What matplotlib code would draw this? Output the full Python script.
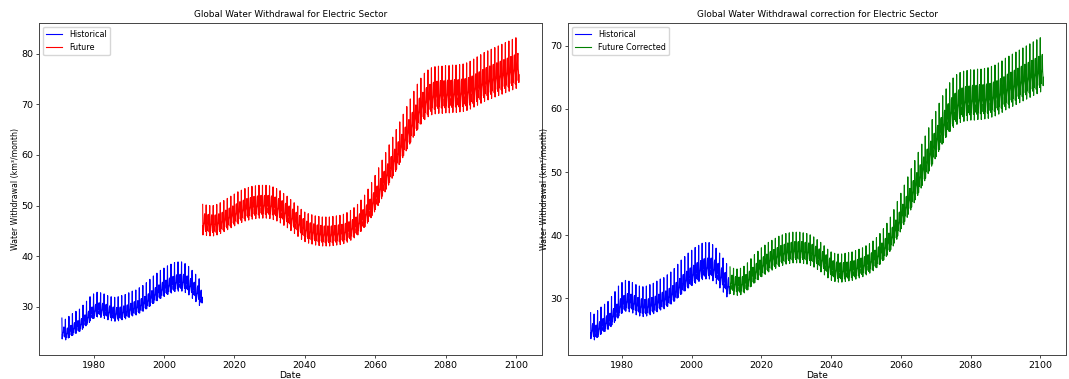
import numpy as np
import pandas as pd
import matplotlib
matplotlib.use("Agg")
import matplotlib.pyplot as plt
import matplotlib.dates as mdates

# annual mean withdrawal (km3/month)
hist_years = list(range(1971, 2011))
hist_annual = [25.0, 24.8, 25.3, 25.8, 26.2, 26.6, 27.3, 28.0, 28.8, 29.3,
               29.6, 29.5, 29.3, 29.0, 28.8, 28.7, 28.8, 29.0, 29.2, 29.5,
               29.8, 30.0, 30.4, 30.8, 31.3, 31.9, 32.5, 33.0, 33.5, 33.9,
               34.3, 34.6, 34.9, 35.0, 35.0, 34.7, 34.2, 33.5, 32.8, 32.0]

fut_years = list(range(2011, 2101))
fut_annual = [46.5, 46.4, 46.3, 46.3, 46.5, 46.8, 47.2, 47.6, 48.0, 48.4,
              48.8, 49.1, 49.4, 49.6, 49.8, 49.9, 50.0, 50.0, 50.0, 49.9,
              49.7, 49.4, 49.0, 48.5, 48.0, 47.4, 46.8, 46.2, 45.6, 45.1,
              44.8, 44.6, 44.4, 44.3, 44.2, 44.2, 44.2, 44.3, 44.4, 44.5,
              44.7, 45.0, 45.4, 45.9, 46.5, 47.3, 48.2, 49.3, 50.5, 51.8,
              53.2, 54.6, 56.0, 57.4, 58.8, 60.2, 61.6, 63.0, 64.4, 65.8,
              67.2, 68.5, 69.6, 70.5, 71.1, 71.5, 71.7, 71.8, 71.8, 71.9,
              71.9, 72.0, 72.0, 72.1, 72.2, 72.4, 72.7, 73.1, 73.5, 73.9,
              74.3, 74.6, 74.9, 75.2, 75.5, 75.8, 76.1, 76.4, 76.7, 77.0]

corr_annual = [32.4, 32.2, 32.1, 32.2, 32.5, 33.0, 33.6, 34.2, 34.7, 35.2,
               35.6, 36.0, 36.3, 36.6, 36.9, 37.1, 37.3, 37.4, 37.5, 37.5,
               37.5, 37.4, 37.3, 37.1, 36.8, 36.4, 36.0, 35.5, 35.0, 34.6,
               34.4, 34.3, 34.3, 34.4, 34.5, 34.6, 34.8, 35.0, 35.2, 35.5,
               35.8, 36.2, 36.7, 37.3, 38.0, 38.8, 39.7, 40.8, 42.0, 43.2,
               44.4, 45.6, 46.8, 48.0, 49.2, 50.4, 51.6, 52.8, 54.0, 55.2,
               56.4, 57.5, 58.5, 59.4, 60.1, 60.6, 60.9, 61.1, 61.2, 61.3,
               61.3, 61.4, 61.4, 61.5, 61.6, 61.8, 62.0, 62.3, 62.6, 63.0,
               63.3, 63.6, 63.9, 64.2, 64.5, 64.8, 65.1, 65.4, 65.7, 66.0]

# monthly factor relative to the annual mean (Jan..Dec)
hist_month_factor = [1.11, 0.945, 0.985, 0.965, 0.99, 1.0, 1.03, 1.04, 0.995, 0.985, 0.96, 0.995]
fut_month_factor = [1.08, 0.95, 0.99, 0.97, 0.995, 1.005, 1.035, 1.04, 1.00, 0.99, 0.965, 0.985]


def monthly(years, annual, factor):
    dates = pd.date_range(f"{years[0]}-01-01", f"{years[-1]}-12-01", freq="MS")
    vals = np.outer(annual, factor).ravel()
    return dates, vals


hd, hv = monthly(hist_years, hist_annual, hist_month_factor)
fd, fv = monthly(fut_years, fut_annual, fut_month_factor)
cd, cv = monthly(fut_years, corr_annual, fut_month_factor)

plt.rcParams['font.size'] = 5.6
fig = plt.figure(figsize=(10.69, 3.79), dpi=100)
ax1 = fig.add_axes([0.0365, 0.0633, 0.4705, 0.877])
ax2 = fig.add_axes([0.5313, 0.0633, 0.4660, 0.877])

lw = 0.8
ax1.plot(hd, hv, color='blue', lw=lw, label='Historical')
ax1.plot(fd, fv, color='red', lw=lw, label='Future')
ax1.set_title('Global Water Withdrawal for Electric Sector', fontsize=6.4, pad=4)

ax2.plot(hd, hv, color='blue', lw=lw, label='Historical')
ax2.plot(cd, cv, color='green', lw=lw, label='Future Corrected')
ax2.set_title('Global Water Withdrawal correction for Electric Sector', fontsize=6.4, pad=4)

for ax in (ax1, ax2):
    ax.set_xlabel('Date', fontsize=6.6, labelpad=1)
    ax.set_ylabel('Water Withdrawal (km³/month)', fontsize=5.6, labelpad=1)
    ax.xaxis.set_major_locator(mdates.YearLocator(20))
    ax.xaxis.set_major_formatter(mdates.DateFormatter('%Y'))
    ax.tick_params(labelsize=6.8, length=2, width=0.5, pad=2)
    for s in ax.spines.values():
        s.set_linewidth(0.7)
        s.set_color('#444444')
    ax.legend(loc='upper left', handlelength=2, fontsize=5.8)

fig.savefig('out.png', dpi=100)
